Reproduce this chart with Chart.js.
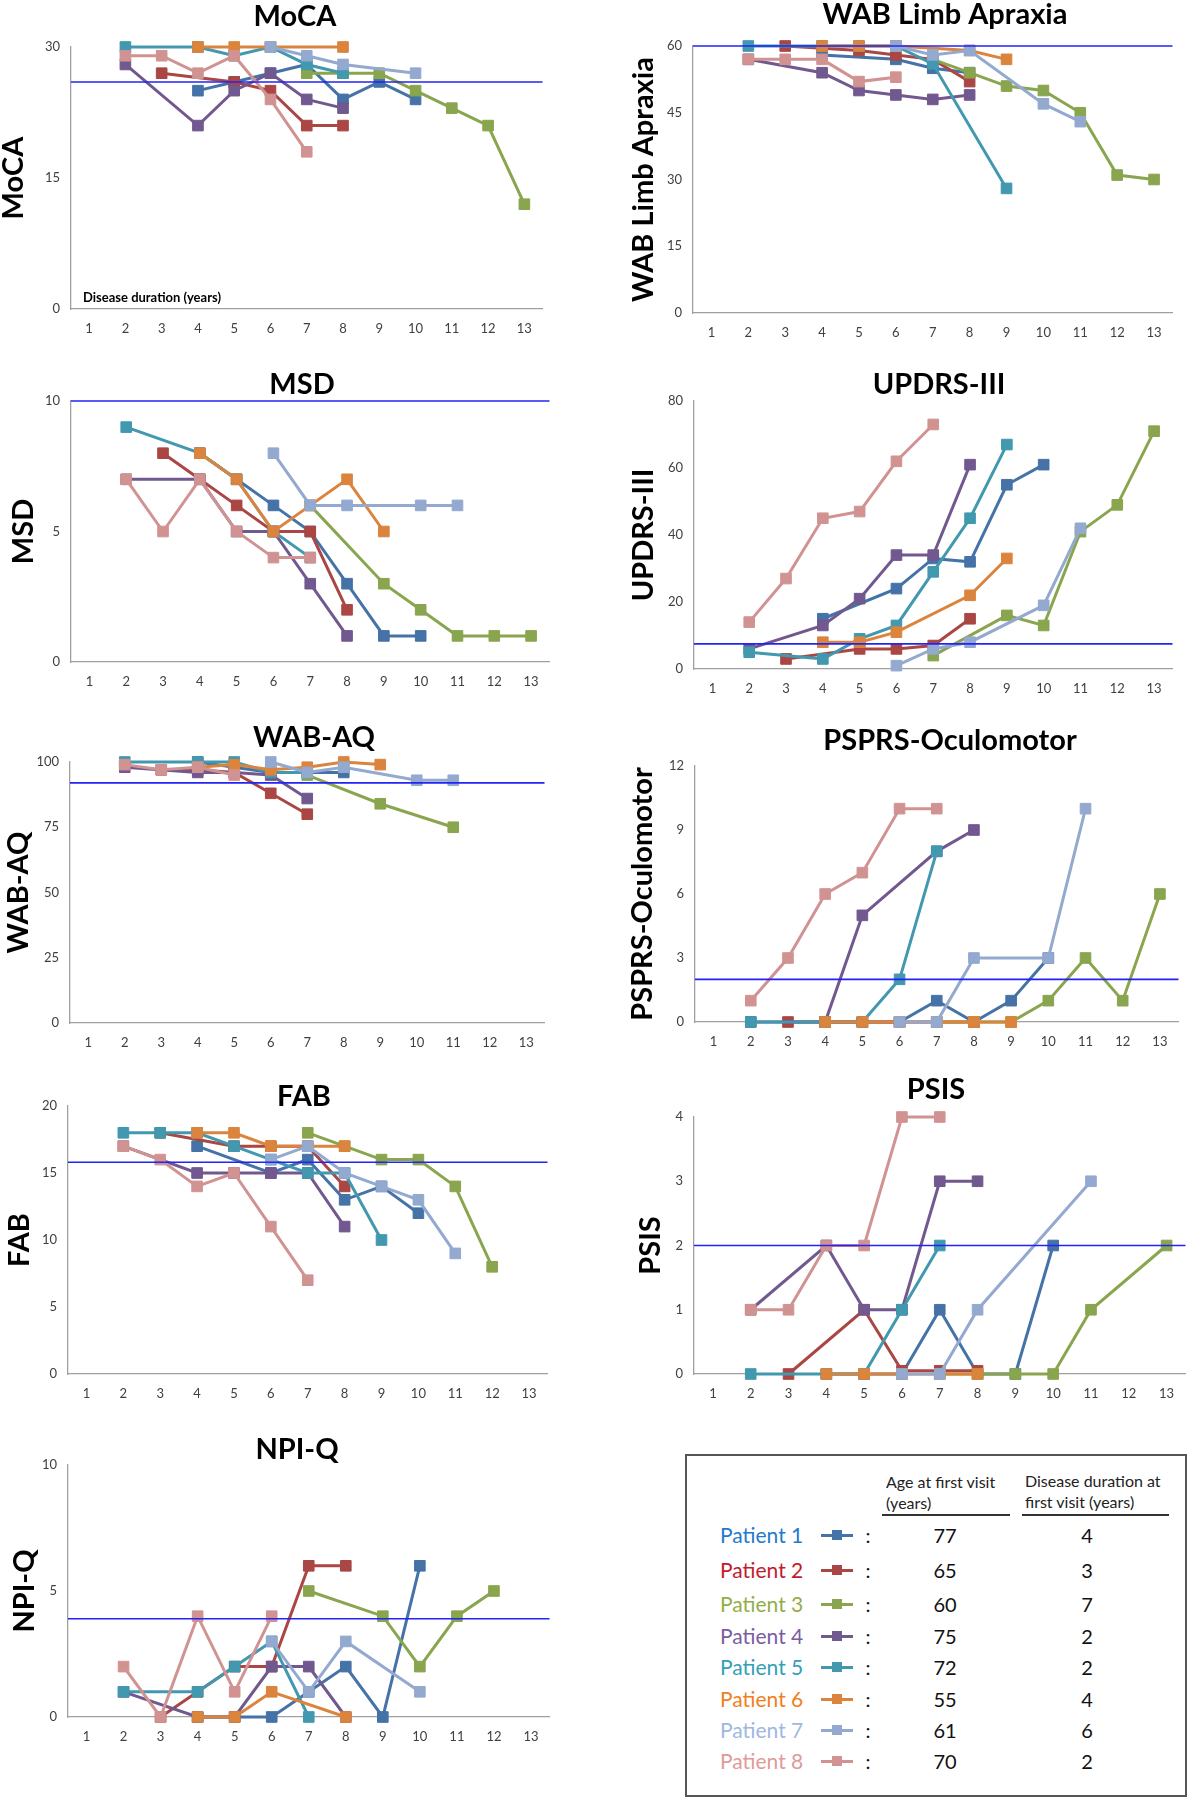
<!DOCTYPE html>
<html>
<head>
<meta charset="utf-8">
<script src="https://cdn.jsdelivr.net/npm/chart.js@4.4.1/dist/chart.umd.min.js"></script>
<style>
  body { margin: 0; background: #fff; font-family: Lato, sans-serif; }
  #page { position: relative; width: 1191px; height: 1800px; overflow: hidden; background: #fff; }
  #page canvas { position: absolute; }
  .legend { position: absolute; left: 685px; top: 1454px; width: 502px; height: 343px;
            box-sizing: border-box; border: 2px solid #555; font-family: Lato, sans-serif; }
  .legend div { position: absolute; white-space: nowrap; }
  .hdr { font-size: 16px; color: #222; line-height: 21px; }
  .rule { height: 0; border-top: 2px solid #333; }
  .pname { font-size: 21px; line-height: 24px; }
  .num { font-size: 20px; color: #111; line-height: 24px; text-align: center; width: 60px; }
  .line { height: 3px; width: 32px; }
  .sq { width: 10px; height: 10px; }
</style>
</head>
<body>
<div id="page"></div>
<script>
const n = null;

// x categories: disease duration in years
const years = ['1', '2', '3', '4', '5', '6', '7', '8', '9', '10', '11', '12', '13'];

const patients = ['Patient 1', 'Patient 2', 'Patient 3', 'Patient 4', 'Patient 5', 'Patient 6', 'Patient 7', 'Patient 8'];
const ageAtFirstVisit = [77, 65, 60, 75, 72, 55, 61, 70];
const durationAtFirstVisit = [4, 3, 7, 2, 2, 4, 6, 2];

const lineColors = ['#4572A7', '#AA4643', '#89A54E', '#71588F', '#4198AF', '#DB843D', '#93A9CF', '#D19392'];
const textColors = ['#2479CC', '#C41A2E', '#93AE48', '#7A5CA3', '#33A0B6', '#F07F22', '#9FB8DF', '#E09A9A'];

// one row per patient, one column per year
const mocaValues = [
  [n, n, n, 25, 26, 27, 28, 24, 26, 24, n, n, n],
  [n, n, 27, n, 26, 25, 21, 21, n, n, n, n, n],
  [n, n, n, n, n, n, 27, 27, 27, 25, 23, 21, 12],
  [n, 28, n, 21, 25, 27, 24, 23, n, n, n, n, n],
  [n, 30, n, 30, 29, 30, 28, 27, n, n, n, n, n],
  [n, n, n, 30, 30, 30, n, 30, n, n, n, n, n],
  [n, n, n, n, n, 30, 29, 28, n, 27, n, n, n],
  [n, 29, 29, 27, 29, 24, 18, n, n, n, n, n, n]
];

const wabLimbValues = [
  [n, n, n, 58, n, 57, 55, 54, n, n, n, n, n],
  [n, n, 60, n, 59, 58, 57, 52, n, n, n, n, n],
  [n, n, n, n, n, n, 57, 54, 51, 50, 45, 31, 30],
  [n, 57, n, 54, 50, 49, 48, 49, n, n, n, n, n],
  [n, 60, n, 60, 60, 60, 56, n, 28, n, n, n, n],
  [n, n, n, 60, 60, 60, n, 59, 57, n, n, n, n],
  [n, n, n, n, n, 60, 58, 59, n, 47, 43, n, n],
  [n, 57, 57, 57, 52, 53, n, n, n, n, n, n, n]
];

const msdValues = [
  [n, n, n, 8, 7, 6, 5, 3, 1, 1, n, n, n],
  [n, n, 8, 7, 6, 5, 5, 2, n, n, n, n, n],
  [n, n, n, n, n, n, 6, n, 3, 2, 1, 1, 1],
  [n, 7, n, 7, 5, 5, 3, 1, n, n, n, n, n],
  [n, 9, n, 8, 7, 5, 4, n, n, n, n, n, n],
  [n, n, n, 8, 7, 5, 6, 7, 5, n, n, n, n],
  [n, n, n, n, n, 8, 6, 6, n, 6, 6, n, n],
  [n, 7, 5, 7, 5, 4, 4, n, n, n, n, n, n]
];

const updrsValues = [
  [n, n, n, 15, n, 24, 33, 32, 55, 61, n, n, n],
  [n, n, 3, n, 6, 6, 7, 15, n, n, n, n, n],
  [n, n, n, n, n, n, 4, n, 16, 13, 41, 49, 71],
  [n, 6, n, 13, 21, 34, 34, 61, n, n, n, n, n],
  [n, 5, n, 3, 9, 13, 29, 45, 67, n, n, n, n],
  [n, n, n, 8, 8, 11, n, 22, 33, n, n, n, n],
  [n, n, n, n, n, 1, 6, 8, n, 19, 42, n, n],
  [n, 14, 27, 45, 47, 62, 73, n, n, n, n, n, n]
];

const wabAqValues = [
  [n, n, n, 100, 98, 96, 96, 96, n, n, n, n, n],
  [n, n, 97, 97, 96, 88, 80, n, n, n, n, n, n],
  [n, n, n, n, n, n, 95, n, 84, n, 75, n, n],
  [n, 98, n, 96, 96, 95, 86, n, n, n, n, n, n],
  [n, 100, n, 100, 100, 96, 96, n, n, n, n, n, n],
  [n, n, n, 98, 99, 97, 98, 100, 99, n, n, n, n],
  [n, n, n, n, n, 100, 96, 98, n, 93, 93, n, n],
  [n, 99, 97, 98, 95, n, n, n, n, n, n, n, n]
];

const psprsValues = [
  [n, n, n, 0, 0, 0, 1, 0, 1, 3, n, n, n],
  [n, n, 0, 0, 0, 0, 0, 0, n, n, n, n, n],
  [n, n, n, n, n, n, 0, 0, 0, 1, 3, 1, 6],
  [n, 0, n, 0, 5, n, 8, 9, n, n, n, n, n],
  [n, 0, n, 0, 0, 2, 8, n, n, n, n, n, n],
  [n, n, n, 0, 0, 0, 0, 0, 0, n, n, n, n],
  [n, n, n, n, n, 0, 0, 3, n, 3, 10, n, n],
  [n, 1, 3, 6, 7, 10, 10, n, n, n, n, n, n]
];

const fabValues = [
  [n, n, n, 17, n, 15, 16, 13, 14, 12, n, n, n],
  [n, n, 18, n, 17, 17, 17, 14, n, n, n, n, n],
  [n, n, n, n, n, n, 18, 17, 16, 16, 14, 8, n],
  [n, 17, n, 15, 15, 15, 15, 11, n, n, n, n, n],
  [n, 18, 18, 18, 17, 16, 15, 15, 10, n, n, n, n],
  [n, n, n, 18, 18, 17, 17, 17, n, n, n, n, n],
  [n, n, n, n, n, 16, 17, 15, 14, 13, 9, n, n],
  [n, 17, 16, 14, 15, 11, 7, n, n, n, n, n, n]
];

const psisValues = [
  [n, n, n, 0, 0, 0, 1, 0, 0, 2, n, n, n],
  [n, n, 0, n, 1, 0.05, 0.05, 0.05, n, n, n, n, n],
  [n, n, n, n, n, n, 0, 0, 0, 0, 1, n, 2],
  [n, 1, n, 2, 1, 1, 3, 3, n, n, n, n, n],
  [n, 0, n, 0, 0, 1, 2, n, n, n, n, n, n],
  [n, n, n, 0, 0, 0, 0, 0, n, n, n, n, n],
  [n, n, n, n, n, 0, 0, 1, n, n, 3, n, n],
  [n, 1, 1, 2, 2, 4, 4, n, n, n, n, n, n]
];

const npiValues = [
  [n, n, n, 0, 0, 0, 1, 2, 0, 6, n, n, n],
  [n, n, 0, 1, 2, 2, 6, 6, n, n, n, n, n],
  [n, n, n, n, n, n, 5, n, 4, 2, 4, 5, n],
  [n, 1, n, 0, 0, 2, 2, 0, n, n, n, n, n],
  [n, 1, n, 1, 2, 3, 0, n, n, n, n, n, n],
  [n, n, n, 0, 0, 1, n, 0, n, n, n, n, n],
  [n, n, n, n, n, 3, 1, 3, n, 1, n, n, n],
  [n, 2, 0, 4, 1, 4, n, n, n, n, n, n, n]
];

// reference (cut-off) lines
const cutoffs = { moca: 26, wabLimb: 60, msd: 10, updrs: 7.5, wabAq: 92, psprs: 2, fab: 15.8, psis: 2, npi: 3.9 };

// panel layout: plot box [left, top, right, bottom] in page pixels
const panels = [
  { title: 'MoCA', values: mocaValues, max: 30, step: 15, ref: cutoffs.moca,
    box: [71, 47, 543, 309], titleAt: [295, 17], yTitleX: 13.5, note: 'Disease duration (years)' },
  { title: 'WAB Limb Apraxia', values: wabLimbValues, max: 60, step: 15, ref: cutoffs.wabLimb,
    box: [693, 46, 1173, 313], titleAt: [945, 15], yTitleX: 644 },
  { title: 'MSD', values: msdValues, max: 10, step: 5, ref: cutoffs.msd,
    box: [71, 401, 550, 662], titleAt: [302, 385], yTitleX: 24 },
  { title: 'UPDRS-III', values: updrsValues, max: 80, step: 20, ref: cutoffs.updrs,
    box: [694, 401, 1173, 669], titleAt: [939, 385], yTitleX: 644 },
  { title: 'WAB-AQ', values: wabAqValues, max: 100, step: 25, ref: cutoffs.wabAq,
    box: [70, 762, 545, 1023], titleAt: [314, 738], yTitleX: 19 },
  { title: 'PSPRS-Oculomotor', values: psprsValues, max: 12, step: 3, ref: cutoffs.psprs,
    box: [695, 766, 1179, 1022], titleAt: [950, 741], yTitleX: 643 },
  { title: 'FAB', values: fabValues, max: 20, step: 5, ref: cutoffs.fab,
    box: [68, 1106, 548, 1374], titleAt: [304, 1097], yTitleX: 20 },
  { title: 'PSIS', values: psisValues, max: 4, step: 1, ref: cutoffs.psis,
    box: [694, 1117, 1186, 1374], titleAt: [936, 1090], yTitleX: 651 },
  { title: 'NPI-Q', values: npiValues, max: 10, step: 5, ref: cutoffs.npi,
    box: [68, 1465, 550, 1717], titleAt: [297, 1450], yTitleX: 25 }
];

const titleSize = 29;

const refLine = {
  id: 'refLine',
  afterDatasetsDraw(chart, args, opts) {
    const { ctx, chartArea, scales } = chart;
    const y = scales.y.getPixelForValue(opts.value);
    ctx.save();
    ctx.strokeStyle = '#2323f5';
    ctx.lineWidth = 1.6;
    ctx.beginPath();
    ctx.moveTo(chartArea.left, y);
    ctx.lineTo(chartArea.right, y);
    ctx.stroke();
    ctx.restore();
  }
};

const panelText = {
  id: 'panelText',
  afterDraw(chart, args, opts) {
    const ctx = chart.ctx;
    ctx.save();
    ctx.fillStyle = '#000';
    ctx.textAlign = 'center';
    ctx.textBaseline = 'middle';
    ctx.font = 'bold ' + titleSize + 'px Lato';
    ctx.fillText(opts.title, opts.x, opts.y);
    if (opts.note) {
      ctx.textAlign = 'left';
      ctx.font = 'bold 13px Lato';
      ctx.fillText(opts.note, chart.chartArea.left + 12, chart.chartArea.bottom - 11);
    }
    ctx.restore();
  }
};

const page = document.getElementById('page');
const topPad = 50, bottomH = 36, rightPad = 8;

panels.forEach(p => {
  const [L, T, R, B] = p.box;
  const cx = Math.floor(p.yTitleX - titleSize / 2 - 3);
  const cy = T - topPad;
  const canvas = document.createElement('canvas');
  canvas.width = R - cx + rightPad;
  canvas.height = B - cy + bottomH;
  canvas.style.left = cx + 'px';
  canvas.style.top = cy + 'px';
  page.appendChild(canvas);

  const datasets = p.values.map((vals, i) => ({
    label: patients[i],
    data: vals,
    borderColor: lineColors[i],
    backgroundColor: lineColors[i],
    pointBackgroundColor: lineColors[i],
    pointBorderColor: lineColors[i],
    borderWidth: 3,
    pointStyle: 'rect',
    pointRadius: 7.5,
    pointBorderWidth: 1,
    tension: 0,
    spanGaps: true,
    clip: false,
    order: 8 - i
  }));

  new Chart(canvas, {
    type: 'line',
    data: { labels: years, datasets: datasets },
    plugins: [refLine, panelText],
    options: {
      responsive: false,
      animation: false,
      layout: { padding: { top: topPad, right: rightPad, left: 0, bottom: 0 } },
      plugins: {
        legend: { display: false },
        tooltip: { enabled: false },
        refLine: { value: p.ref },
        panelText: { title: p.title, x: p.titleAt[0] - cx, y: p.titleAt[1] - cy, note: p.note }
      },
      scales: {
        x: {
          type: 'category',
          offset: true,
          grid: { display: false, drawTicks: false },
          border: { display: true, color: '#a0a0a0', width: 1.3 },
          ticks: { color: '#404040', font: { family: 'Lato', size: 13 }, padding: 12, maxRotation: 0, autoSkip: false },
          afterFit(scale) { scale.height = bottomH; }
        },
        y: {
          min: 0,
          max: p.max,
          grid: { display: false, drawTicks: false },
          border: { display: true, color: '#a0a0a0', width: 1.3 },
          ticks: { stepSize: p.step, color: '#404040', font: { family: 'Lato', size: 13 }, padding: 11 },
          title: {
            display: true,
            text: p.title,
            color: '#000',
            font: { family: 'Lato', size: titleSize, weight: 'bold', lineHeight: 1 },
            padding: { top: p.yTitleX - titleSize / 2 - cx, bottom: 0 }
          },
          afterFit(scale) { scale.width = L - cx; }
        }
      }
    }
  });
});

// legend table
const legend = document.createElement('div');
legend.className = 'legend';
let html = '';
html += '<div class="hdr" style="left:199px;top:15px">Age at first visit<br>(years)</div>';
html += '<div class="rule" style="left:195px;top:58px;width:128px"></div>';
html += '<div class="hdr" style="left:338px;top:14px">Disease duration at<br>first visit (years)</div>';
html += '<div class="rule" style="left:335px;top:58px;width:147px"></div>';
const rowY = [79, 114, 148, 180, 211, 243, 274, 305];
patients.forEach((name, i) => {
  const y = rowY[i];
  html += `<div class="pname" style="left:33px;top:${y - 12}px;color:${textColors[i]}">${name}</div>`;
  html += `<div class="line" style="left:134px;top:${y - 1.5}px;background:${lineColors[i]}"></div>`;
  html += `<div class="sq" style="left:145px;top:${y - 5}px;background:${lineColors[i]}"></div>`;
  html += `<div class="num" style="left:151px;top:${y - 12}px">:</div>`;
  html += `<div class="num" style="left:228px;top:${y - 12}px">${ageAtFirstVisit[i]}</div>`;
  html += `<div class="num" style="left:370px;top:${y - 12}px">${durationAtFirstVisit[i]}</div>`;
});
legend.innerHTML = html;
page.appendChild(legend);
</script>
</body>
</html>
